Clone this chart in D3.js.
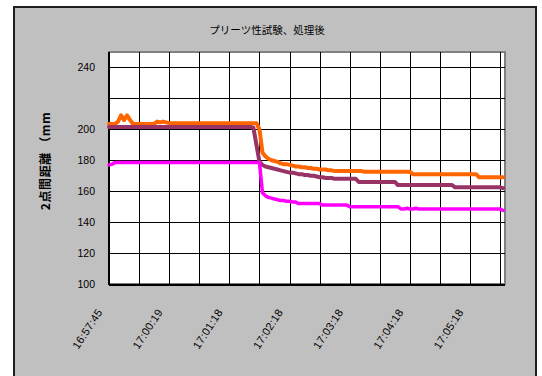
<!DOCTYPE html>
<html><head><meta charset="utf-8">
<script src="https://cdn.jsdelivr.net/npm/d3@7"></script>
<style>
html,body{margin:0;padding:0;background:#fff;}
svg{display:block;}
</style>
</head><body>
<svg id="chart" width="542" height="376"></svg>
<script>
// ---- data ----
const chartTitle = "プリーツ性試験、処理後";
const yAxisTitle = "2点間距離 （mm";
const yTicks = [100,120,140,160,180,200,220,240];
const yTickLabels = ["100","120","140","160","180","200","","240"];
const xTickIndex = [0,20,40,60,80,100,120];
const xTickLabels = ["16:57:45","17:00:19","17:01:18","17:02:18","17:03:18","17:04:18","17:05:18"];
const xGridIndex = [0,10,20,30,40,50,60,70,80,90,100,110,120,130];

const seriesOrange = [
203.5,203.5,203.5,205,209,206,209,206,
203.5,203.5,203.5,203.5,203.5,203.5,203.5,203.5,
205,204.5,205,204.5,
204,204,204,204,204,204,204,204,204,204,
204,204,204,204,204,204,204,204,204,204,
204,204,204,204,204,204,204,204,204,204,
200,185,182.5,181,180,179.5,179,178,177.5,177.5,177,176.5,176,176,175.5,175.5,175,175,174.5,174.5,174,174,174,173.5,173.5,
173,173,173,173,173,173,173,173,173,173,
172.5,172.5,172.5,172.5,172.5,172.5,172.5,172.5,172.5,172.5,172.5,172.5,172.5,172.5,172.5,172.5,
171,171,171,171,171,171,171,171,171,171,171,171,171,171,171,171,171,171,171,171,171,171,
169,169,169,169,169,169,169,169,169
];
const seriesPurple = [
201.5,201.5,201.5,201.5,201.5,201.5,201.5,201.5,201.5,201.5,
201.5,201.5,201.5,201.5,201.5,201.5,201.5,201.5,201.5,201.5,
201.5,201.5,201.5,201.5,201.5,201.5,201.5,201.5,201.5,201.5,
201.5,201.5,201.5,201.5,201.5,201.5,201.5,201.5,201.5,201.5,
201.5,201.5,201.5,201.5,201.5,201.5,201.5,201.5,
201,190,179,177,176,175.5,175,174.5,174,173.5,173,172.5,172,172,171.5,171,171,170.5,170.5,170,170,169.5,169,169,168.5,168.5,168.5,
168,168,168,168,168,168,168,168,
166,166,166,166,166,166,166,166,166,166,166,166,166,
164,164,164,164,164,164,164,164,164,164,164,164,164,164,164,164,164,164,164,
162.5,162.5,162.5,162.5,162.5,162.5,162.5,162.5,162.5,162.5,162.5,162.5,162.5,162.5,162.5,162.5,
162
];
const seriesMagenta = [
177,177.5,
178.5,178.5,178.5,178.5,178.5,178.5,178.5,178.5,178.5,178.5,
178.5,178.5,178.5,178.5,178.5,178.5,178.5,178.5,178.5,178.5,
178.5,178.5,178.5,178.5,178.5,178.5,178.5,178.5,178.5,178.5,
178.5,178.5,178.5,178.5,178.5,178.5,178.5,178.5,178.5,178.5,
178.5,178.5,178.5,178.5,178.5,178.5,178.5,178.5,178.5,
159,157,156,155.5,155,154.5,154,154,153.5,153.5,153,153,
152,152,152,152,152,152,152,152,
151,151,151,151,151,151,151,151,151,
150,150,150,150,150,150,150,150,150,150,150,150,150,150,150,150,150,
148.5,148.5,149,148.5,148.5,149,148.5,148.5,148.5,148.5,
148.5,148.5,148.5,148.5,148.5,148.5,148.5,148.5,148.5,148.5,
148.5,148.5,148.5,148.5,148.5,148.5,148.5,148.5,148.5,148.5,
148.5,148.5,148.5,148.5,
147.5
];
const seriesColors = ["#ff6600","#993366","#ff00ff"];

// ---- drawing ----
const svg = d3.select("#chart");
const plot = {left:109, right:505, top:52, bottom:284};
const x = d3.scaleLinear().domain([0,131.6]).range([plot.left, plot.right]);
const y = d3.scaleLinear().domain([100,250]).range([plot.bottom, plot.top]);
const latin = "'Liberation Sans', Arial, sans-serif";
const cjk = "'Noto Sans CJK JP', 'Liberation Sans', sans-serif";

// outer chart area
svg.append("rect").attr("x",14).attr("y",7).attr("width",522).attr("height",420)
  .attr("fill","#c0c0c0").attr("stroke","#1e1e1e").attr("stroke-width",2);

// plot area
svg.append("rect").attr("x",plot.left).attr("y",plot.top)
  .attr("width",plot.right-plot.left).attr("height",plot.bottom-plot.top)
  .attr("fill","#fff").attr("stroke","#808080").attr("stroke-width",2);

const grid = svg.append("g").attr("shape-rendering","crispEdges");
grid.selectAll("line.h").data(yTicks).join("line").attr("class","h")
  .attr("x1",plot.left).attr("x2",plot.right)
  .attr("y1",d=>Math.round(y(d))+0.5).attr("y2",d=>Math.round(y(d))+0.5)
  .attr("stroke","#000").attr("stroke-width",1);
grid.selectAll("line.v").data(xGridIndex).join("line").attr("class","v")
  .attr("x1",d=>Math.round(x(d))+0.5).attr("x2",d=>Math.round(x(d))+0.5)
  .attr("y1",plot.top).attr("y2",plot.bottom)
  .attr("stroke","#000").attr("stroke-width",1);
// axis lines
grid.append("line").attr("x1",plot.left).attr("x2",plot.left).attr("y1",plot.top).attr("y2",plot.bottom+1)
  .attr("stroke","#000").attr("stroke-width",2);
grid.append("line").attr("x1",plot.left).attr("x2",plot.right).attr("y1",plot.bottom+0.5).attr("y2",plot.bottom+0.5)
  .attr("stroke","#000").attr("stroke-width",2);

// y tick labels
svg.append("g").selectAll("text").data(yTicks).join("text")
  .attr("x",95).attr("y",d=>y(d)).attr("dy","0.35em")
  .attr("text-anchor","end").attr("font-family",latin).attr("font-size","10.5px").attr("fill","#000")
  .text((d,i)=>yTickLabels[i]);

// x tick labels
svg.append("g").selectAll("text").data(xTickIndex).join("text")
  .attr("transform",d=>`translate(${x(d)-6},312) rotate(-57)`)
  .attr("text-anchor","end").attr("font-family",latin).attr("font-size","11px")
  .attr("letter-spacing","0.3px").attr("fill","#000")
  .text((d,i)=>xTickLabels[i]);

// title
svg.append("text").attr("x",267).attr("y",34).attr("text-anchor","middle")
  .attr("font-family",cjk).attr("font-size","10.5px").attr("fill","#000").text(chartTitle);

// y title
svg.append("text").attr("transform","translate(50,161) rotate(-90)").attr("text-anchor","middle")
  .attr("font-family",cjk).attr("font-size","12px").attr("font-weight","bold")
  .attr("letter-spacing","0.6px").attr("fill","#000").text(yAxisTitle);

// series lines
const line = d3.line().x((d,i)=>x(i)).y(d=>y(d));
[seriesOrange, seriesPurple, seriesMagenta].forEach((s,k)=>{
  svg.append("path").datum(s).attr("d",line).attr("fill","none")
    .attr("stroke",seriesColors[k]).attr("stroke-width",k===2?3.5:4)
    .attr("stroke-linejoin","round").attr("stroke-linecap","round");
});
</script>
</body></html>
